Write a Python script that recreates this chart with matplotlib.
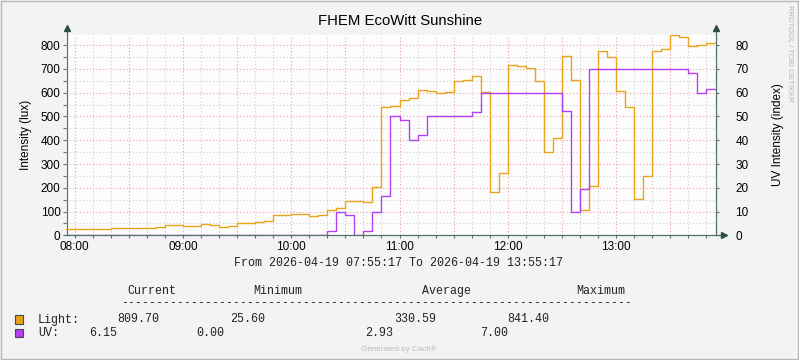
"""FHEM EcoWitt Sunshine - rrdtool/Cacti style graph, light + UV over 6 hours."""

import numpy as np
import pandas as pd
import matplotlib
matplotlib.use("Agg")
import matplotlib.pyplot as plt
from matplotlib.patches import Rectangle
from matplotlib.ticker import MultipleLocator, FuncFormatter
import matplotlib.dates as mdates


# --- data: 5 minute samples, first one covers 07:55-08:00 ---
START = "2026-04-19 07:55"
T_FROM = "2026-04-19 07:55:17"
T_TO = "2026-04-19 13:55:17"

light = [25.6, 25.6, 25.6, 25.6, 25.6,
         29.5, 29.5, 29.5, 29.5, 29.5,
         33.7, 42, 42, 38, 38, 46.4, 42, 33.7, 38,
         50.6, 50.6, 54.8, 59, 84.4, 84.4, 88.6, 88.6, 80, 84.4,
         105, 114, 143, 143, 139, 202,
         540, 544, 569, 578, 611, 607, 598, 603, 649, 654, 671,
         603, 181, 262, 717, 713, 704, 651, 350, 409, 755, 655,
         105, 207, 777, 752, 607, 540, 152, 250, 777, 784,
         841.4, 836, 798, 802, 809.7]

uv = [0] * 29 + [0.2, 1.0, 0.85, 0, 0.2, 1.0,
                 1.65, 5.0, 4.85, 4.0, 4.2,
                 5.0, 5.0, 5.0, 5.0, 5.0, 5.2] + [6.0] * 9 + \
     [5.25, 1.0, 1.95] + [7.0] * 11 + [6.85, 6.0, 6.15]

# legend table, as printed by rrdtool
leg_names = ["Light:", "UV:"]
leg_current = ["809.70", "6.15"]
leg_minimum = ["25.60", "0.00"]
leg_average = ["330.59", "2.93"]
leg_maximum = ["841.40", "7.00"]

LIGHT_COLOR = "#EAA41C"
UV_COLOR = "#B340F5"
AXIS_COLOR = "#53726A"
BG = "#F3F3F3"
SANS = "Liberation Sans"
MONO = "Liberation Mono"

W, H = 799, 360


def px(x, y):
    # pixel position -> figure fraction
    return x / W, 1 - y / H


fig = plt.figure(figsize=(W / 100, H / 100), dpi=100, facecolor=BG)
left, top, right, bottom = 66, 34.5, 716, 235.3
ax = fig.add_axes([left / W, 1 - bottom / H, (right - left) / W, (bottom - top) / H])
ax.set_facecolor("#FDFDFD")

times = pd.date_range(START, periods=len(light) + 1, freq="5min")
ax.step(times, light + [light[-1]], where="post", color=LIGHT_COLOR, lw=1.0, zorder=3)
ax.step(times, np.array(uv + [uv[-1]]) * 100, where="post", color=UV_COLOR, lw=1.0, zorder=4)

ax.set_xlim(pd.Timestamp(T_FROM), pd.Timestamp(T_TO))
ax.set_ylim(0, 845)

# grid: red every 30 min / 100 lux, grey every 10 min / 50 lux
ax.xaxis.set_major_locator(mdates.MinuteLocator(byminute=[0, 30]))
ax.xaxis.set_minor_locator(mdates.MinuteLocator(byminute=range(0, 60, 10)))
ax.xaxis.set_major_formatter(FuncFormatter(
    lambda v, _: mdates.num2date(v).strftime("%H:%M") if mdates.num2date(v).minute == 0 else ""))
ax.yaxis.set_major_locator(MultipleLocator(100))
ax.yaxis.set_minor_locator(MultipleLocator(50))
ax.grid(which="major", color="#E8A0A0", ls=(0, (1, 2)), lw=0.8)
ax.grid(which="minor", color="#CCCCCC", ls=(0, (1, 2)), lw=0.8)
ax.set_axisbelow(True)

ax.tick_params(which="both", length=2, width=0.8, color=AXIS_COLOR, pad=2,
               labelsize=8.5, labelfontfamily=SANS)
for s in ["top", "right", "bottom", "left"]:
    ax.spines[s].set_visible(False)

ax2 = ax.secondary_yaxis("right", functions=(lambda v: v / 10, lambda v: v * 10))
ax2.yaxis.set_major_locator(MultipleLocator(10))
ax2.tick_params(length=2, width=0.8, color=AXIS_COLOR, pad=12,
                labelsize=8.5, labelfontfamily=SANS)
ax2.spines["right"].set_visible(False)

# axes with arrow heads (drawn under the data lines, like rrdtool)
tr = ax.transAxes
ax.plot([0.002, 0.002], [0, 1.03], color=AXIS_COLOR, lw=0.9, transform=tr, clip_on=False, zorder=2.5)
ax.plot([1, 1], [0, 1.03], color=AXIS_COLOR, lw=0.9, transform=tr, clip_on=False, zorder=2.5)
ax.plot([0, 1.01], [0, 0], color=AXIS_COLOR, lw=0.9, transform=tr, clip_on=False, zorder=2.5)
ax.plot([0.002, 1], [1.03, 1.03], ls="none", marker="^", ms=4.5, color="#2E4F47",
        transform=tr, clip_on=False, zorder=6)
ax.plot([1.012], [0], ls="none", marker=">", ms=4.5, color="#2E4F47",
        transform=tr, clip_on=False, zorder=6)

ax.set_ylabel("Intensity (lux)", fontsize=8.5, family=SANS, labelpad=6)
fig.text(*px(778, 135), "UV Intensity (index)", rotation=90, fontsize=8.5,
         family=SANS, ha="center", va="center")
fig.text(*px(400, 21), "FHEM EcoWitt Sunshine", fontsize=10.7, family=SANS,
         ha="center", va="center")
fig.text(*px(789, 5), "RRDTOOL / TOBI OETIKER", rotation=270, fontsize=5.5,
         family=SANS, color="#B4B4B4", ha="center", va="top")

# --- legend / footer ---
mono = dict(family=MONO, fontsize=8.35, va="center", ha="left", color="#222222")
fig.text(*px(399, 263), "From 2026-04-19 07:55:17 To 2026-04-19 13:55:17",
         **{**mono, "ha": "center"})
for x, label in zip([127, 253, 422, 576], ["Current", "Minimum", "Average", "Maximum"]):
    fig.text(*px(x, 291), label, **mono)
fig.text(*px(121, 303), "-" * 73, **mono)

rows_y = [319.5, 333]
col_x = [[117, 230, 394, 507], [89, 196, 365, 480]]
for i, (name, color) in enumerate(zip(leg_names, [LIGHT_COLOR, UV_COLOR])):
    y = rows_y[i]
    fig.patches.append(Rectangle(px(15.3, y + 4.3), 8 / W, 8.6 / H, transform=fig.transFigure,
                                 facecolor=color, edgecolor="#3A4F4A", lw=0.8))
    fig.text(*px(38, y), name, **mono)
    vals = [leg_current[i], leg_minimum[i], leg_average[i], leg_maximum[i]]
    for x, v in zip(col_x[i], vals):
        fig.text(*px(x, y), v, **mono)

fig.text(*px(399, 349), "Generated by Cacti\u00ae", fontsize=5.8, family=SANS,
         color="#BBBBBB", ha="center", va="center")

# image border
fig.patches.append(Rectangle((0.0008, 0.0015), 0.9984, 0.997, transform=fig.transFigure,
                             fill=False, edgecolor="#B8B8B8", lw=1.0))

fig.savefig("out.png", dpi=100, facecolor=BG)
